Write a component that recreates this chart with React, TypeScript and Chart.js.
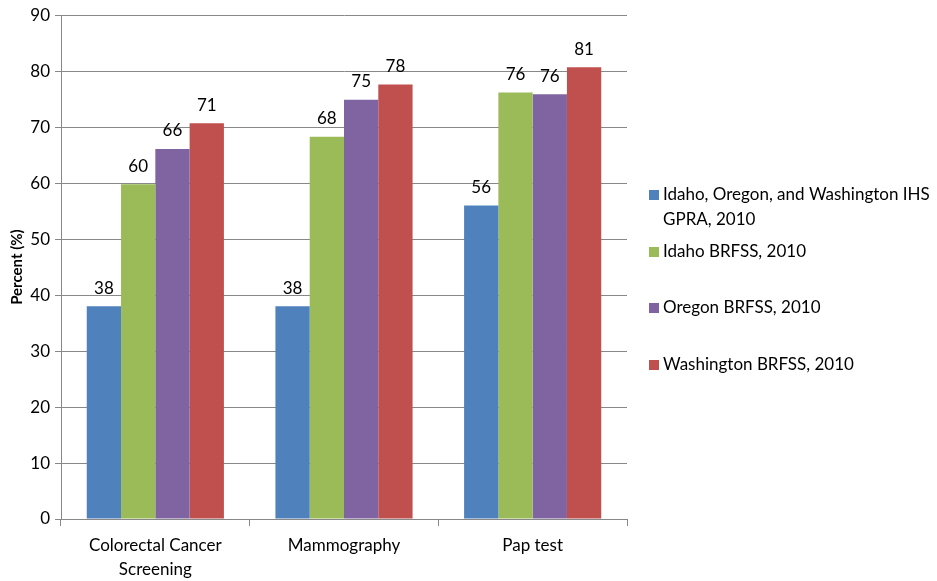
import React, { useEffect, useRef } from "react";
import { Chart, registerables } from "chart.js";

Chart.register(...registerables);

const categories: (string | string[])[] = [["Colorectal Cancer", "Screening"], "Mammography", "Pap test"];
const seriesLabels = [
  "Idaho, Oregon, and Washington IHS GPRA, 2010",
  "Idaho BRFSS, 2010",
  "Oregon BRFSS, 2010",
  "Washington BRFSS, 2010",
];
const ihsGpra = [38, 38, 56];
const idahoBrfss = [59.8, 68.3, 76.2];
const oregonBrfss = [66.1, 74.9, 75.9];
const washingtonBrfss = [70.7, 77.6, 80.7];
const seriesColors = ["#4F81BD", "#9BBB59", "#8064A2", "#C0504D"];
const yTicks = [0, 10, 20, 30, 40, 50, 60, 70, 80, 90];

const FONT = "Lato, 'DejaVu Sans', sans-serif";

const dataLabelPlugin = {
  id: "dataLabels",
  afterDatasetsDraw(chart: any) {
    const ctx = chart.ctx;
    ctx.save();
    ctx.font = `17px ${FONT}`;
    ctx.fillStyle = "#000";
    ctx.textAlign = "center";
    ctx.textBaseline = "middle";
    chart.data.datasets.forEach((ds: any, i: number) => {
      const meta = chart.getDatasetMeta(i);
      meta.data.forEach((el: any, j: number) => {
        ctx.fillText(String(Math.round(ds.data[j])), el.x, el.y - 18);
      });
    });
    ctx.restore();
  },
};

const legendPlugin = {
  id: "customLegend",
  afterDraw(chart: any) {
    const ctx = chart.ctx;
    const ca = chart.chartArea;
    const x0 = ca.right + 22;
    const textX = x0 + 14;
    const maxW = chart.width - textX - 2;
    const lineH = 24.5;
    const firstLineY = [195, 252, 308, 365];
    ctx.save();
    ctx.font = `17px ${FONT}`;
    ctx.textBaseline = "middle";
    ctx.textAlign = "left";
    chart.data.datasets.forEach((ds: any, i: number) => {
      const words = String(ds.label).split(" ");
      const lines: string[] = [];
      let cur = "";
      words.forEach((w) => {
        const t = cur ? cur + " " + w : w;
        if (ctx.measureText(t).width > maxW && cur) {
          lines.push(cur);
          cur = w;
        } else cur = t;
      });
      if (cur) lines.push(cur);
      const y = firstLineY[i];
      ctx.fillStyle = ds.backgroundColor;
      ctx.fillRect(x0, y - 5, 10, 10);
      ctx.fillStyle = "#000";
      lines.forEach((ln, k) => ctx.fillText(ln, textX, y + k * lineH));
    });
    ctx.restore();
  },
};

export default function App() {
  const ref = useRef<HTMLCanvasElement>(null);
  useEffect(() => {
    if (!ref.current) return;
    const values = [ihsGpra, idahoBrfss, oregonBrfss, washingtonBrfss];
    const chart = new Chart(ref.current, {
      type: "bar",
      data: {
        labels: categories,
        datasets: values.map((v, i) => ({
          label: seriesLabels[i],
          data: v,
          backgroundColor: seriesColors[i],
          borderWidth: 0,
          categoryPercentage: 0.727,
          barPercentage: 1,
        })),
      },
      options: {
        animation: false,
        responsive: true,
        maintainAspectRatio: false,
        layout: { padding: { top: 14, right: 310, left: 0, bottom: 0 } },
        plugins: { legend: { display: false }, tooltip: { enabled: false } },
        scales: {
          x: {
            grid: { display: true, drawOnChartArea: false, drawTicks: true, tickLength: 7, color: "#888", offset: true },
            border: { display: true, color: "#888", width: 1 },
            ticks: { color: "#000", font: { family: FONT, size: 17, lineHeight: 1.4 }, padding: 8, maxRotation: 0 },
            afterFit: (s: any) => { s.height = 62; },
          },
          y: {
            min: 0,
            max: 90,
            afterBuildTicks: (s: any) => { s.ticks = yTicks.map((v) => ({ value: v })); },
            grid: { color: "#888", tickLength: 6, drawTicks: true },
            border: { display: true, color: "#888", width: 1 },
            ticks: { color: "#000", font: { family: FONT, size: 17 }, padding: 5 },
            title: { display: true, text: "Percent (%)", color: "#000", font: { family: FONT, size: 15, weight: "bold" }, padding: { top: 8, bottom: 0 } },
            afterFit: (s: any) => { s.width = 61; },
          },
        },
      },
      plugins: [dataLabelPlugin, legendPlugin],
    });
    return () => chart.destroy();
  }, []);
  return (
    <div style={{ position: "absolute", left: 0, top: 0, width: 937, height: 581, background: "#fff" }}>
      <canvas ref={ref} />
    </div>
  );
}
